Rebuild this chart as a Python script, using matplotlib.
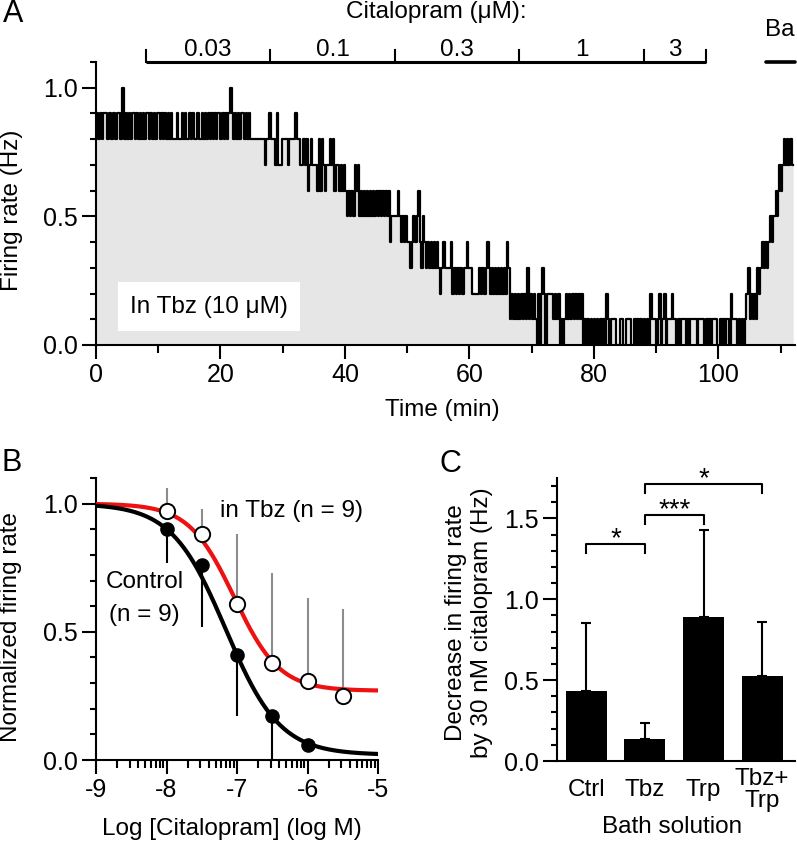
import numpy as np
import matplotlib
matplotlib.use('Agg')
import matplotlib.pyplot as plt
from matplotlib.ticker import MultipleLocator, FixedLocator
from matplotlib.patches import Rectangle

plt.rcParams['font.family'] = ['Liberation Sans', 'DejaVu Sans']
plt.rcParams['font.size'] = 17.5

# ---- panel A: firing rate trace, levels in tenths of Hz (A = 1.0 Hz)
trace_segments = [
    (0.0, 4.2, "98989989898998"),
    (4.2, 4.5, "A"),
    (4.5, 12.5, "89898998989898998989899898989898"),
    (12.5, 17.5, "88988989889898898898"),
    (17.5, 21.5, "9898989899898989"),
    (21.5, 21.8, "A"),
    (21.8, 24.8, "989898998989"),
    (24.8, 27.1, "8"),
    (27.1, 33.0, "788988879778888788889887"),
    (33.0, 35.0, "78786787"),
    (35.0, 40.3, "776868767787867767676"),
    (40.3, 47.7, "565657675656565656565656565645"),
    (47.7, 52.0, "55565454544345456"),
    (52.0, 56.0, "4354343434343234"),
    (56.0, 61.6, "3333423232323343322222"),
    (61.6, 66.5, "32323432323232323243"),
    (66.5, 70.8, "12121212121312121"),
    (70.8, 72.4, "0202320"),
    (72.4, 74.5, "22221212"),
    (74.5, 78.2, "010121212121212"),
    (78.2, 83.0, "0101010101010102101"),
    (83.0, 86.2, "1100011001110"),
    (86.2, 89.0, "01010101010"),
    (89.0, 104.5, "21110120120111211010111010111101111010101110010101102111010101"),
    (104.5, 107.0, "2312121323"),
    (107.0, 108.3, "43434"),
    (108.3, 109.0, "545"),
    (109.0, 109.6, "565"),
    (109.6, 110.2, "676"),
    (110.2, 112.0, "7878787"),
]
cit_edges = [8, 28, 48, 68, 88, 98]
cit_labels = ["0.03", "0.1", "0.3", "1", "3"]
ba_span = (107.7, 112.3)

# ---- panel B: concentration-response
logc_ctrl = [-8, -7.5, -7, -6.5, -6]
resp_ctrl = [0.90, 0.76, 0.41, 0.17, 0.06]
err_ctrl = [0.13, 0.24, 0.24, 0.17, 0.0]
logc_tbz = [-8, -7.5, -7, -6.5, -6, -5.5]
resp_tbz = [0.97, 0.88, 0.61, 0.38, 0.31, 0.25]
err_tbz = [0.09, 0.10, 0.27, 0.35, 0.32, 0.34]
fit_ctrl = (1.0, 0.02, -7.16, 1.13)   # top, bottom, logIC50, hill
fit_tbz = (1.0, 0.27, -7.04, 1.35)

# ---- panel C: bars
groups = ["Ctrl", "Tbz", "Trp", "Tbz+\nTrp"]
decrease = [0.435, 0.135, 0.888, 0.523]
decrease_err = [0.42, 0.10, 0.54, 0.334]
sig_pairs = [(0, 1, 1.34, "*"), (1, 2, 1.52, "***"), (1, 3, 1.71, "*")]

fig = plt.figure(figsize=(7.97, 8.46), dpi=100)


def style_axes(ax):
    for s in ['top', 'right']:
        ax.spines[s].set_visible(False)
    for s in ['left', 'bottom']:
        ax.spines[s].set_linewidth(1.5)
    ax.tick_params(which='major', direction='out', length=10, width=1.5, pad=3, labelsize=18)
    ax.tick_params(which='minor', direction='out', length=4.5, width=1.5)


# ================= A
axA = fig.add_axes([96 / 797, 1 - 345 / 846, 699 / 797, 283 / 846])
style_axes(axA)
t_list, v_list = [], []
for t0, t1, s in trace_segments:
    n = len(s)
    t_list.append(t0 + (t1 - t0) * np.arange(n) / n)
    v_list.append(np.array([int(c, 16) / 10 for c in s]))
t = np.concatenate(t_list + [[trace_segments[-1][1]]])
v = np.concatenate(v_list)
v = np.append(v, v[-1])
axA.fill_between(t, v, step='post', color='#e6e6e6', lw=0)
axA.step(t, v, where='post', color='k', lw=1.6)
axA.set_xlim(0, 112.3)
axA.set_ylim(0, 1.1)
axA.xaxis.set_major_locator(MultipleLocator(20))
axA.xaxis.set_minor_locator(MultipleLocator(10))
axA.yaxis.set_major_locator(FixedLocator([0, 0.5, 1.0]))
axA.yaxis.set_minor_locator(MultipleLocator(0.1))
axA.tick_params(axis='x', which='minor', length=6)
axA.set_yticklabels(['0.0', '0.5', '1.0'])
axA.set_xlabel('Time (min)')
axA.xaxis.set_label_coords(0.496, -0.19)
axA.set_ylabel('Firing rate (Hz)')
axA.yaxis.set_label_coords(-0.1044, 0.477)

axA.add_patch(Rectangle((3.5, 0.055), 29.2, 0.19, facecolor='white', edgecolor='none', zorder=3))
axA.text(18.1, 0.148, 'In Tbz (10 \u03bcM)', ha='center', va='center', zorder=4)

# citalopram bar
bar_y = 1.10
axA.plot([cit_edges[0], cit_edges[-1]], [bar_y, bar_y], color='k', lw=2.2, clip_on=False, solid_capstyle='butt')
for e in cit_edges:
    axA.plot([e, e], [bar_y, bar_y + 0.045], color='k', lw=1.5, clip_on=False)
for a, b, lab in zip(cit_edges[:-1], cit_edges[1:], cit_labels):
    axA.text((a + b) / 2, 1.125, lab, ha='center', va='baseline', clip_on=False)
axA.text(54.6, 1.27, 'Citalopram (\u03bcM):', ha='center', va='baseline')
axA.plot(ba_span, [bar_y, bar_y], color='k', lw=2.6, clip_on=False, solid_capstyle='round')
axA.text(109.8, 1.203, 'Ba', ha='center', va='baseline')

# ================= B
axB = fig.add_axes([96 / 797, 1 - 760 / 846, 282 / 797, 282 / 846])
style_axes(axB)
xs = np.linspace(-9, -5, 400)


def hill(x, p):
    top, bottom, c, n = p
    return bottom + (top - bottom) / (1 + 10 ** ((x - c) * n))


axB.errorbar(logc_tbz, resp_tbz, yerr=[np.zeros(len(err_tbz)), err_tbz], fmt='none',
             ecolor='#8c8c8c', elinewidth=1.5, zorder=2)
axB.errorbar(logc_ctrl, resp_ctrl, yerr=[err_ctrl, np.zeros(len(err_ctrl))], fmt='none',
             ecolor='k', elinewidth=1.5, zorder=2)
axB.plot(xs, hill(xs, fit_tbz), color='#ee1111', lw=3, zorder=3)
axB.plot(xs, hill(xs, fit_ctrl), color='k', lw=3, zorder=3)
axB.plot(logc_tbz, resp_tbz, 'o', ms=11, mfc='white', mec='k', mew=1.4, zorder=4)
axB.plot(logc_ctrl, resp_ctrl, 'o', ms=9.5, mfc='k', mec='k', zorder=4)
axB.set_xlim(-9, -5)
axB.set_ylim(0, 1.1)
axB.xaxis.set_major_locator(FixedLocator([-9, -8, -7, -6, -5]))
minors = [d + np.log10(k) for d in range(-9, -5) for k in range(2, 10)]
axB.xaxis.set_minor_locator(FixedLocator(minors))
axB.tick_params(axis='x', which='minor', length=6)
axB.yaxis.set_major_locator(FixedLocator([0, 0.5, 1.0]))
axB.yaxis.set_minor_locator(MultipleLocator(0.1))
axB.set_yticklabels(['0.0', '0.5', '1.0'])
axB.set_xticklabels(['-9', '-8', '-7', '-6', '-5'])
axB.set_xlabel('Log [Citalopram] (log M)')
axB.xaxis.set_label_coords(0.483, -0.206)
axB.set_ylabel('Normalized firing rate')
axB.yaxis.set_label_coords(-0.262, 0.472)
axB.text(-6.234, 0.973, 'in Tbz (n = 9)', ha='center', va='center')
axB.text(-8.305, 0.695, 'Control', ha='center', va='center')
axB.text(-8.32, 0.566, '(n = 9)', ha='center', va='center')

# ================= C
axC = fig.add_axes([557 / 797, 1 - 761 / 846, 238 / 797, 283 / 846])
style_axes(axC)
xc = np.arange(len(groups))
axC.bar(xc, decrease, width=0.7, color='k')
axC.errorbar(xc, decrease, yerr=[np.zeros(len(decrease_err)), decrease_err], fmt='none',
             ecolor='k', elinewidth=1.5, capsize=3.5, capthick=1.5)
for i, j, y, lab in sig_pairs:
    axC.plot([i, i, j, j], [y - 0.055, y, y, y - 0.055], color='k', lw=1.5, clip_on=False)
    axC.text((i + j) / 2, y - 0.05, lab, ha='center', va='bottom', fontsize=20, clip_on=False)
axC.set_xlim(-0.5, 3.56)
axC.set_ylim(0, 1.75)
axC.yaxis.set_major_locator(FixedLocator([0, 0.5, 1.0, 1.5]))
axC.yaxis.set_minor_locator(MultipleLocator(0.1))
axC.set_yticklabels(['0.0', '0.5', '1.0', '1.5'])
axC.set_xticks(xc)
axC.set_xticklabels(groups, va='center', linespacing=1.0, fontsize=17.5)
axC.tick_params(axis='x', which='major', length=0, pad=21)
axC.set_xlabel('Bath solution')
axC.xaxis.set_label_coords(0.483, -0.194)
axC.set_ylabel('Decrease in firing rate\nby 30 nM citalopram (Hz)', linespacing=1.25)
axC.yaxis.set_label_coords(-0.269, 0.488)

fig.text(13 / 797, 1 - 14 / 846, 'A', ha='center', va='center', fontsize=22)
fig.text(12 / 797, 1 - 463 / 846, 'B', ha='center', va='center', fontsize=22)
fig.text(450 / 797, 1 - 464 / 846, 'C', ha='center', va='center', fontsize=22)

fig.savefig('out.png', dpi=100)
